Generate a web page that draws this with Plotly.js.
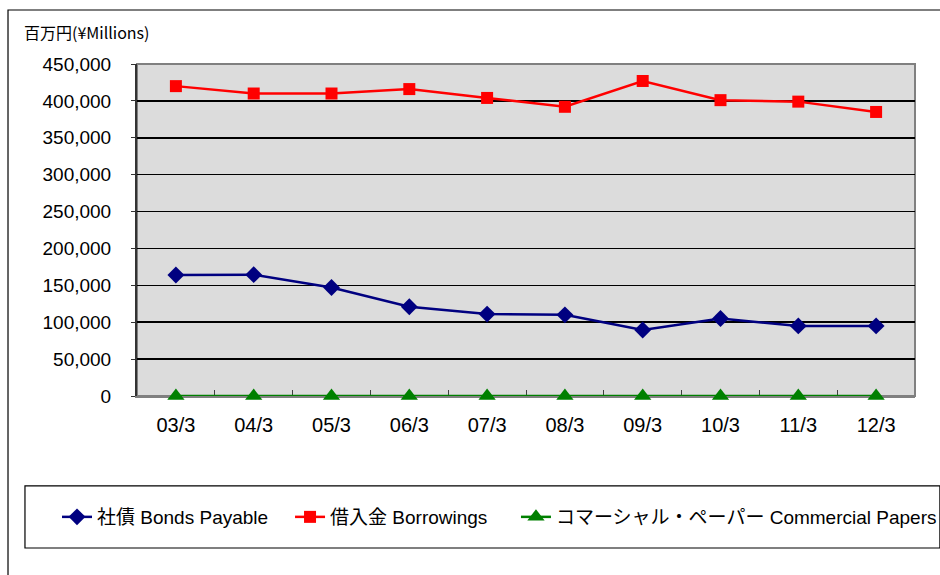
<!DOCTYPE html>
<html>
<head>
<meta charset="utf-8">
<script src="https://cdn.plot.ly/plotly-3.0.1.min.js"></script>
<style>
html,body{margin:0;padding:0;background:#fff;}
#chart{width:940px;height:575px;}
</style>
</head>
<body>
<div id="chart"></div>
<script>
const categories = ["03/3","04/3","05/3","06/3","07/3","08/3","09/3","10/3","11/3","12/3"];
const bondsPayable = [164000,164500,147000,121000,111000,110000,89500,105000,95000,95000];
const borrowings = [420000,410000,410000,416000,404000,392000,427000,401000,399000,385000];
const commercialPapers = [0,0,0,0,0,0,0,0,0,0];
const yTickVals = [0,50000,100000,150000,200000,250000,300000,350000,400000,450000];
const yTickText = ["0","50,000","100,000","150,000","200,000","250,000","300,000","350,000","400,000","450,000"];
const seriesNames = ["社債 Bonds Payable","借入金 Borrowings","コマーシャル・ペーパー Commercial Papers"];
const unitLabel = "百万円(¥Millions)";

const font = "Liberation Sans, Arial, Noto Sans CJK JP, sans-serif";
const legendFont = {family: "Liberation Sans, Noto Sans CJK JP, sans-serif", size: 19, color: "#000000"};

const traces = [
  {x: categories, y: bondsPayable, name: seriesNames[0], type: "scatter", mode: "lines+markers", legend: "legend",
   line: {color: "#000080", width: 2.5}, marker: {symbol: "diamond", size: 13, color: "#000080"}},
  {x: categories, y: borrowings, name: seriesNames[1], type: "scatter", mode: "lines+markers", legend: "legend2",
   line: {color: "#ff0000", width: 2.5}, marker: {symbol: "square", size: 12, color: "#ff0000"}},
  {x: categories, y: commercialPapers, name: seriesNames[2], type: "scatter", mode: "lines+markers", legend: "legend3", cliponaxis: false,
   line: {color: "#008000", width: 2.5}, marker: {symbol: "triangle-up", size: 15, color: "#008000"}}
];

function legendAt(x) {
  return {orientation: "h", x: x, xanchor: "left", y: -0.3645, yanchor: "middle",
          borderwidth: 0, bgcolor: "rgba(255,255,255,0)", font: legendFont, itemwidth: 30};
}

const layout = {
  width: 940, height: 575,
  margin: {l: 137, r: 25, t: 64, b: 179, autoexpand: false},
  paper_bgcolor: "#ffffff",
  plot_bgcolor: "#dcdcdc",
  font: {family: font, color: "#000000", size: 18},
  showlegend: true,
  legend: legendAt(-0.1028),
  legend2: legendAt(0.1967),
  legend3: legendAt(0.4871),
  xaxis: {
    type: "category", range: [-0.5, 9.5], showgrid: false, zeroline: false,
    showline: true, linecolor: "#808080", linewidth: 2, layer: "below traces",
    ticks: "inside", tickson: "boundaries", ticklen: 6, tickcolor: "#404040",
    tickfont: {size: 20}, ticklabelstandoff: 10, fixedrange: true, automargin: false
  },
  yaxis: {
    range: [0, 450000], tickvals: yTickVals, ticktext: yTickText,
    showgrid: true, gridcolor: "#000000", gridwidth: 1.5,
    zeroline: false, showline: true, linecolor: "#333333", linewidth: 2, layer: "below traces",
    ticks: "outside", ticklen: 4, tickcolor: "#333333",
    tickfont: {size: 19}, ticklabelstandoff: 16, fixedrange: true, automargin: false
  },
  shapes: [
    {type: "rect", xref: "paper", yref: "paper", x0: 0, x1: 1, y0: 0, y1: 1,
     line: {color: "#808080", width: 2}, layer: "below", fillcolor: "rgba(0,0,0,0)"},
    {type: "rect", xref: "paper", yref: "paper", x0: -0.1658, x1: 1.1, y0: -0.6, y1: 1.1627,
     line: {color: "#000000", width: 1.2}, fillcolor: "rgba(0,0,0,0)"},
    {type: "rect", xref: "paper", yref: "paper", x0: -0.144, x1: 1.032, y0: -0.4578, y1: -0.271,
     line: {color: "#000000", width: 1.2}, fillcolor: "rgba(0,0,0,0)"}
  ],
  annotations: [
    {text: unitLabel, xref: "paper", yref: "paper", x: -0.148, y: 1.095, xanchor: "left", yanchor: "middle",
     showarrow: false, font: {family: "Noto Sans CJK JP, Liberation Sans, sans-serif", size: 16}}
  ]
};

Plotly.newPlot("chart", traces, layout, {displayModeBar: false, staticPlot: true});
</script>
</body>
</html>
